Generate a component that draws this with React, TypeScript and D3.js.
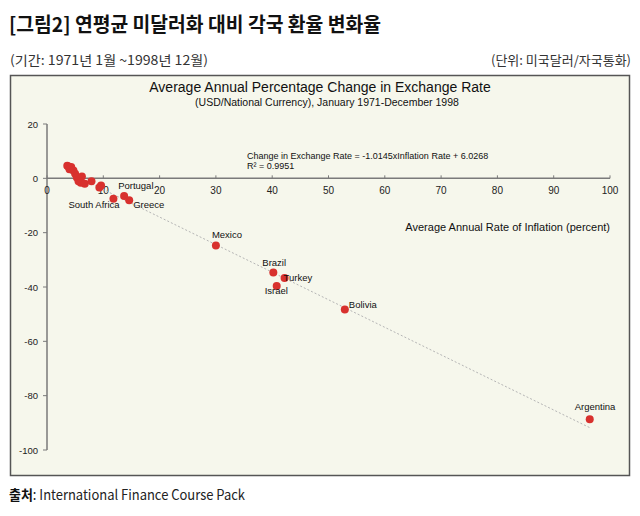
import React from "react";
import * as d3 from "d3";

const countryNames = ["", "", "", "", "", "", "", "", "", "", "", "", "", "", "South Africa", "Portugal", "Greece", "Mexico", "Brazil", "Turkey", "Israel", "Bolivia", "Argentina"];
const inflation = [3.6, 3.8, 4.3, 4.0, 4.7, 5.0, 5.3, 6.2, 5.6, 6.0, 6.7, 7.9, 9.6, 9.3, 11.8, 13.7, 14.6, 30.0, 40.2, 42.2, 40.8, 52.9, 96.4];
const fxChange = [4.6, 4.4, 4.2, 3.3, 2.9, 1.7, 0.3, 0.7, -1.1, -1.6, -2.0, -1.1, -2.6, -3.4, -7.5, -6.5, -8.1, -24.7, -34.7, -36.7, -39.6, -48.3, -88.7];
const xTicks = [0, 10, 20, 30, 40, 50, 60, 70, 80, 90, 100];
const yTicks = [20, 0, -20, -40, -60, -80, -100];
const slope = -1.0145;
const intercept = 6.0268;

const labelPos: Record<string, [number, number, string]> = {
  "South Africa": [-45, 9, "start"],
  "Portugal": [-6, -7, "start"],
  "Greece": [4, 8, "start"],
  "Mexico": [-4, -7, "start"],
  "Brazil": [-11, -7, "start"],
  "Turkey": [-1, 3, "start"],
  "Israel": [-12, 8, "start"],
  "Bolivia": [4, -2, "start"],
  "Argentina": [-15, -9, "start"],
};

export default function App() {
  const x = d3.scaleLinear().domain([0, 100]).range([47, 610]);
  const y = d3.scaleLinear().domain([20, -100]).range([124, 450]);
  const lineX = [3.5, 96.5];
  const reg = d3.line<number>().x((d) => x(d)).y((d) => y(slope * d + intercept));
  const axisColor = "#7a7a7a";
  const sans = "'Liberation Sans', Arial, sans-serif";
  const kr = "'Noto Sans CJK KR', sans-serif";

  return (
    <svg width={640} height={516} style={{ position: "absolute", left: 0, top: 0, background: "#fff" }}>
      <text x={9} y={32} fontFamily={kr} fontSize={20} fontWeight={700} fill="#111" textLength={372} lengthAdjust="spacingAndGlyphs">[그림2] 연평균 미달러화 대비 각국 환율 변화율</text>
      <text x={10} y={65} fontFamily={kr} fontSize={13} fill="#333" textLength={198} lengthAdjust="spacingAndGlyphs">(기간: 1971년 1월 ~1998년 12월)</text>
      <text x={631} y={65} fontFamily={kr} fontSize={13} fill="#333" textAnchor="end">(단위: 미국달러/자국통화)</text>

      <rect x={10.5} y={75.5} width={619} height={400} fill="#f6f7ec" stroke="#555" strokeWidth={1.5} />

      <text x={320} y={92} fontFamily={sans} fontSize={14} fill="#111" textAnchor="middle">Average Annual Percentage Change in Exchange Rate</text>
      <text x={327} y={106} fontFamily={sans} fontSize={10.5} fill="#111" textAnchor="middle">(USD/National Currency), January 1971-December 1998</text>

      <line x1={x(0)} x2={x(100)} y1={y(0)} y2={y(0)} stroke={axisColor} strokeWidth={1.5} />
      <line x1={x(0)} x2={x(0)} y1={y(20)} y2={y(-100)} stroke={axisColor} strokeWidth={1.5} />
      {yTicks.map((t) => (
        <g key={"y" + t}>
          <line x1={x(0) - 4} x2={x(0)} y1={y(t)} y2={y(t)} stroke={axisColor} strokeWidth={1} />
          <text x={x(0) - 9} y={y(t) + 3.5} fontFamily={sans} fontSize={9.5} fill="#222" textAnchor="end">{t}</text>
        </g>
      ))}
      {xTicks.map((t) => (
        <g key={"x" + t}>
          <line x1={x(t)} x2={x(t)} y1={y(0) - 3} y2={y(0)} stroke={axisColor} strokeWidth={1} />
          <text x={x(t)} y={y(0) + 16} fontFamily={sans} fontSize={10} fill="#222" textAnchor="middle">{t}</text>
        </g>
      ))}
      <text x={610} y={231} fontFamily={sans} fontSize={11} fill="#111" textAnchor="end">Average Annual Rate of Inflation (percent)</text>

      <path d={reg(lineX) || ""} fill="none" stroke="#b5b5b5" strokeWidth={1} strokeDasharray="2,2" />
      <text x={247} y={159} fontFamily={sans} fontSize={9} fill="#111">Change in Exchange Rate = -1.0145xInflation Rate + 6.0268</text>
      <text x={247} y={169} fontFamily={sans} fontSize={9} fill="#111">R² = 0.9951</text>

      {inflation.map((v, i) => (
        <circle key={"p" + i} cx={x(v)} cy={y(fxChange[i])} r={4} fill="#d8312e" />
      ))}
      {inflation.map((v, i) => {
        const name = countryNames[i];
        if (!name) return null;
        const [dx, dy, anchor] = labelPos[name];
        return (
          <text key={"l" + i} x={x(v) + dx} y={y(fxChange[i]) + dy} fontFamily={sans} fontSize={9.5} fill="#111" textAnchor={anchor as any}>{name}</text>
        );
      })}

      <text x={9} y={500} fontFamily={kr} fontSize={14} fill="#222" textLength={236} lengthAdjust="spacingAndGlyphs">
        <tspan fontWeight={700} fill="#111">출처</tspan>
        <tspan>: International Finance Course Pack</tspan>
      </text>
    </svg>
  );
}
